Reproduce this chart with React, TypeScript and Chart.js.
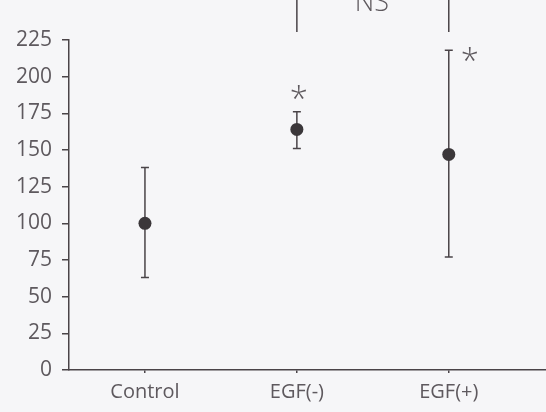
import React, { useEffect, useRef } from "react";
import { Chart, registerables } from "chart.js";

Chart.register(...registerables);

const categories = ["Control", "EGF(-)", "EGF(+)"];
const means = [100, 164, 147];
const errLow = [63, 151, 77];
const errHigh = [138, 176, 218];
const starIndices = [1, 2];
const nsPair = [1, 2];
const nsLabel = "NS";
const yTicks = [0, 25, 50, 75, 100, 125, 150, 175, 200, 225];

const INK = "#4a4448";
const TEXT = "#5e595e";
const BG = "#f6f6f8";
const FONT = "'Open Sans', 'DejaVu Sans', sans-serif";

const annotate = {
  id: "annotate",
  beforeDraw(chart: any) {
    const { ctx, width, height } = chart;
    ctx.save();
    ctx.fillStyle = BG;
    ctx.fillRect(0, 0, width, height);
    ctx.restore();
  },
  beforeDatasetsDraw(chart: any) {
    const { ctx } = chart;
    const xs = chart.scales.x;
    const ys = chart.scales.y;
    ctx.save();
    ctx.strokeStyle = INK;
    ctx.lineWidth = 1.5;
    for (let i = 0; i < means.length; i++) {
      const x = xs.getPixelForValue(i);
      const yl = ys.getPixelForValue(errLow[i]);
      const yh = ys.getPixelForValue(errHigh[i]);
      ctx.beginPath();
      ctx.moveTo(x, yl);
      ctx.lineTo(x, yh);
      ctx.moveTo(x - 4, yl);
      ctx.lineTo(x + 4, yl);
      ctx.moveTo(x - 4, yh);
      ctx.lineTo(x + 4, yh);
      ctx.stroke();
    }
    ctx.restore();
  },
  afterDraw(chart: any) {
    const { ctx } = chart;
    const xs = chart.scales.x;
    const ys = chart.scales.y;
    ctx.save();
    ctx.fillStyle = TEXT;
    ctx.font = `300 33px ${FONT}`;
    ctx.textAlign = "center";
    ctx.textBaseline = "middle";
    {
      const i = starIndices[0];
      const x = xs.getPixelForValue(i);
      const y = ys.getPixelForValue(errHigh[i]) - 17;
      ctx.fillText("*", x + 2, y + 6);
    }
    {
      const i = starIndices[1];
      const x = xs.getPixelForValue(i);
      const y = ys.getPixelForValue(errHigh[i]) + 7;
      ctx.fillText("*", x + 21, y + 5);
    }
    const x1 = xs.getPixelForValue(nsPair[0]);
    const x2 = xs.getPixelForValue(nsPair[1]);
    const yb = ys.getPixelForValue(230.5);
    const yt = ys.getPixelForValue(262);
    ctx.strokeStyle = INK;
    ctx.lineWidth = 1.5;
    ctx.beginPath();
    ctx.moveTo(x1, yb);
    ctx.lineTo(x1, yt);
    ctx.moveTo(x2, yb);
    ctx.lineTo(x2, yt);
    ctx.stroke();
    ctx.font = `300 27px ${FONT}`;
    ctx.textBaseline = "alphabetic";
    ctx.fillText(nsLabel, (x1 + x2) / 2 - 1, ys.getPixelForValue(244.5));
    ctx.restore();
  },
};

export default function App() {
  const ref = useRef<HTMLCanvasElement>(null);
  useEffect(() => {
    document.body.style.margin = "0";
    document.body.style.background = BG;
    const chart = new Chart(ref.current!, {
      type: "scatter",
      data: {
        datasets: [
          {
            data: means.map((m, i) => ({ x: i, y: m })),
            showLine: false,
            pointRadius: 6.5,
            pointBackgroundColor: "#3b373a",
            pointBorderColor: "#3b373a",
            pointBorderWidth: 0,
          },
        ],
      },
      options: {
        animation: false,
        responsive: false,
        events: [],
        layout: { autoPadding: false, padding: { top: 40, right: 0, left: 0, bottom: 0 } },
        plugins: { legend: { display: false }, tooltip: { enabled: false } },
        scales: {
          x: {
            type: "linear",
            min: -0.5,
            max: 2.64,
            afterBuildTicks: (s: any) => {
              s.ticks = categories.map((_, i) => ({ value: i }));
            },
            afterFit: (s: any) => {
              s.height = 42;
            },
            ticks: {
              callback: (v: any) => categories[v as number] ?? "",
              color: TEXT,
              font: { family: FONT, size: 20, weight: "normal" },
              padding: 7,
              maxRotation: 0,
              autoSkip: false,
            },
            grid: {
              drawOnChartArea: false,
              drawTicks: true,
              tickLength: 3,
              color: INK,
              lineWidth: 1.5,
            },
            border: { color: INK, width: 1.5 },
          },
          y: {
            min: 0,
            max: 225,
            afterBuildTicks: (s: any) => {
              s.ticks = yTicks.map((v) => ({ value: v }));
            },
            afterFit: (s: any) => {
              s.width = 69;
            },
            ticks: {
              color: TEXT,
              font: { family: FONT, size: 21, weight: "normal" },
              padding: 10,
            },
            grid: {
              drawOnChartArea: false,
              tickLength: 7,
              color: INK,
              lineWidth: 1.5,
            },
            border: { color: INK, width: 1.5 },
          },
        },
      },
      plugins: [annotate],
    });
    return () => chart.destroy();
  }, []);
  return (
    <div style={{ position: "absolute", left: 0, top: 0, width: 546, height: 412 }}>
      <canvas ref={ref} width={546} height={412} />
    </div>
  );
}
